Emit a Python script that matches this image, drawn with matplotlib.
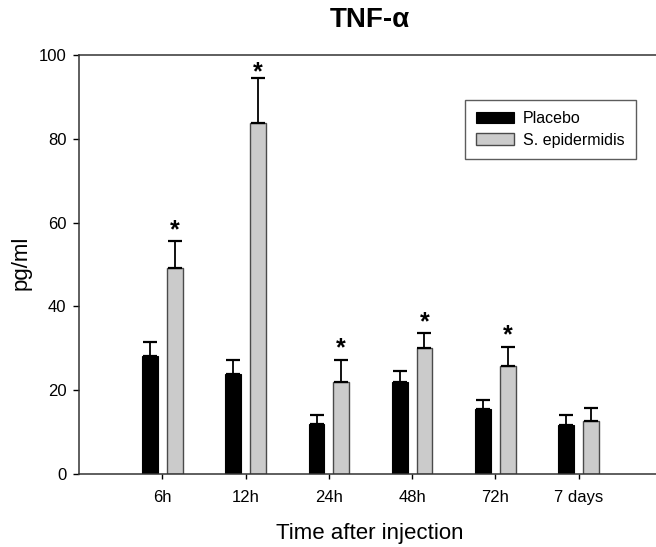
import numpy as np
import matplotlib
matplotlib.use("Agg")
import matplotlib.pyplot as plt

plt.rcParams['font.family'] = ['Liberation Sans', 'DejaVu Sans']

# values (pg/ml)
times = ["6h", "12h", "24h", "48h", "72h", "7 days"]
placebo = [28.2, 23.8, 11.9, 22.0, 15.6, 11.6]
placebo_err = [3.4, 3.3, 2.2, 2.7, 2.1, 2.5]
epi = [49.2, 83.7, 22.0, 30.1, 25.8, 12.7]
epi_err = [6.3, 10.7, 5.2, 3.5, 4.6, 3.1]
significant = [True, True, True, True, True, False]

fig = plt.figure(figsize=(6.56, 5.47), dpi=100)
ax = fig.add_axes([79 / 656, 1 - 474 / 547, (662 - 79) / 656, 419 / 547])

x = np.arange(len(times))
width = 0.19
offset = 0.148

err_kw = dict(elinewidth=1.3, capthick=1.6, capsize=5, ecolor='black')

# one-sided (upper) error bars
ax.bar(x - offset, placebo, width, color='black', edgecolor='black', linewidth=0.8,
       yerr=[np.zeros(len(x)), placebo_err], error_kw=err_kw, label='Placebo', zorder=2)
ax.bar(x + offset, epi, width, color='#cbcbcb', edgecolor='#4a4a4a', linewidth=1.0,
       yerr=[np.zeros(len(x)), epi_err], error_kw=err_kw, label='S. epidermidis', zorder=2)

# significance stars over the S. epidermidis bars
for xi, v, e, sig in zip(x, epi, epi_err, significant):
    if sig:
        ax.text(xi + offset, min(v + e + 2.7, 95.8), '*', ha='center', va='center',
                fontsize=18, fontweight='bold')

ax.set_xlim(-1, 6)
ax.set_ylim(0, 100)
ax.set_xticks(x)
ax.set_xticklabels(times)
ax.set_yticks([0, 20, 40, 60, 80, 100])

ax.spines['right'].set_visible(False)
for s in ['left', 'bottom', 'top']:
    ax.spines[s].set_linewidth(1.1)
    ax.spines[s].set_color('#333333')

ax.tick_params(axis='y', direction='out', length=4, width=1, pad=5, labelsize=12)
ax.tick_params(axis='x', direction='out', length=3.5, width=1, pad=8, labelsize=12)

fig.text(370 / 656, 1 - 533 / 547, 'Time after injection', ha='center', va='center', fontsize=16)
fig.text(21 / 656, 1 - 263 / 547, 'pg/ml', ha='center', va='center', rotation=90, fontsize=16)
fig.text(370 / 656, 1 - 20 / 547, 'TNF-α', ha='center', va='center', fontsize=20, fontweight='bold')

leg = ax.legend(loc='upper right', bbox_to_anchor=(636 / 656, 1 - 100 / 547),
                bbox_transform=fig.transFigure, fontsize=11.5, frameon=True, fancybox=False,
                borderpad=0.7, labelspacing=0.4, handlelength=2.4, handleheight=0.75,
                handletextpad=0.55, borderaxespad=0)
leg.get_frame().set_edgecolor('#333333')
leg.get_frame().set_linewidth(1.0)

fig.savefig('out.png', dpi=100)
